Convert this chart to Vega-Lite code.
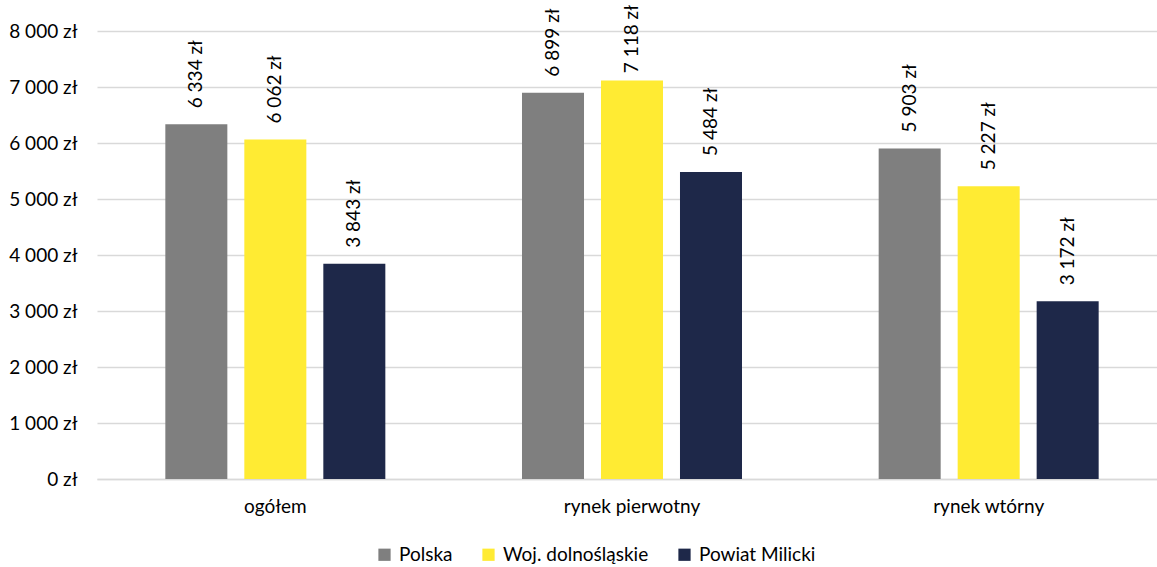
{
  "$schema": "https://vega.github.io/schema/vega-lite/v6.json",
  "autosize": "none",
  "padding": {"left": 97, "top": 31, "right": 0, "bottom": 88},
  "width": 1070,
  "height": 448,
  "background": "white",
  "data": {
    "values": [
      {"kategoria": "ogółem", "obszar": "Polska", "cena": 6334},
      {"kategoria": "ogółem", "obszar": "Woj. dolnośląskie", "cena": 6062},
      {"kategoria": "ogółem", "obszar": "Powiat Milicki", "cena": 3843},
      {"kategoria": "rynek pierwotny", "obszar": "Polska", "cena": 6899},
      {"kategoria": "rynek pierwotny", "obszar": "Woj. dolnośląskie", "cena": 7118},
      {"kategoria": "rynek pierwotny", "obszar": "Powiat Milicki", "cena": 5484},
      {"kategoria": "rynek wtórny", "obszar": "Polska", "cena": 5903},
      {"kategoria": "rynek wtórny", "obszar": "Woj. dolnośląskie", "cena": 5227},
      {"kategoria": "rynek wtórny", "obszar": "Powiat Milicki", "cena": 3172}
    ]
  },
  "transform": [
    {"calculate": "replace(format(datum.cena, ','), regexp(',', 'g'), ' ') + ' zł'", "as": "etykieta"},
    {"calculate": "min(datum.cena, 6960)", "as": "pozycja"}
  ],
  "encoding": {
    "x": {
      "field": "kategoria",
      "type": "nominal",
      "sort": ["ogółem", "rynek pierwotny", "rynek wtórny"],
      "scale": {"paddingInner": 0, "paddingOuter": 0},
      "axis": {
        "title": null,
        "labelAngle": 0,
        "ticks": false,
        "domain": true,
        "domainColor": "#d9d9d9",
        "domainWidth": 1.5,
        "labelPadding": 18,
        "labelFont": "Lato",
        "labelFontSize": 19,
        "labelColor": "#000000"
      }
    },
    "xOffset": {
      "field": "obszar",
      "type": "nominal",
      "sort": ["Polska", "Woj. dolnośląskie", "Powiat Milicki"],
      "scale": {"paddingInner": 0.215, "paddingOuter": 0.865}
    }
  },
  "layer": [
    {
      "mark": {"type": "bar"},
      "encoding": {
        "y": {
          "field": "cena",
          "type": "quantitative",
          "scale": {"domain": [0, 8000]},
          "axis": {
            "title": null,
            "values": [0, 1000, 2000, 3000, 4000, 5000, 6000, 7000, 8000],
            "labelExpr": "replace(format(datum.value, ','), regexp(',', 'g'), ' ') + ' zł'",
            "ticks": false,
            "domain": false,
            "grid": true,
            "gridColor": "#d9d9d9",
            "gridWidth": 1.5,
            "labelPadding": 20,
            "labelFont": "Lato",
            "labelFontSize": 19,
            "labelColor": "#000000"
          }
        },
        "color": {
          "field": "obszar",
          "type": "nominal",
          "sort": ["Polska", "Woj. dolnośląskie", "Powiat Milicki"],
          "scale": {
            "domain": ["Polska", "Woj. dolnośląskie", "Powiat Milicki"],
            "range": ["#7f7f7f", "#ffeb33", "#1e2849"]
          },
          "legend": {
            "title": null,
            "orient": "none",
            "direction": "horizontal",
            "legendX": 278,
            "legendY": 514,
            "symbolType": "square",
            "symbolSize": 150,
            "symbolStrokeWidth": 0,
            "labelFont": "Lato",
            "labelFontSize": 19,
            "labelColor": "#000000",
            "labelOffset": 5,
            "columnPadding": 26
          }
        }
      }
    },
    {
      "mark": {
        "type": "text",
        "angle": -90,
        "align": "left",
        "baseline": "middle",
        "dx": 16,
        "font": "Lato",
        "fontSize": 19,
        "color": "#000000"
      },
      "encoding": {
        "y": {"field": "pozycja", "type": "quantitative"},
        "text": {"field": "etykieta"}
      }
    }
  ],
  "config": {
    "view": {"stroke": null}
  }
}
